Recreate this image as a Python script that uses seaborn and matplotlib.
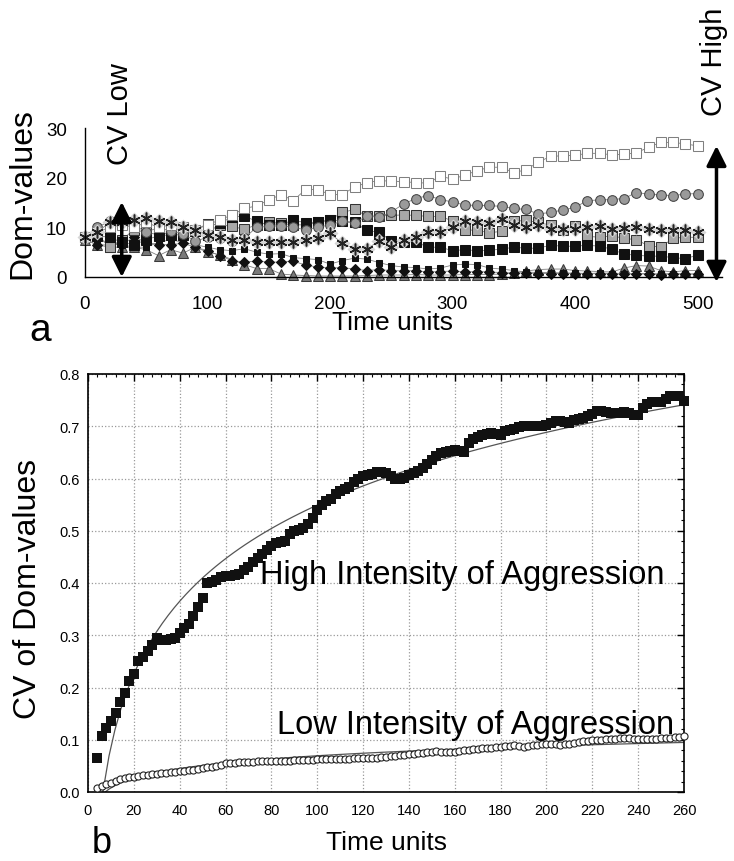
import matplotlib
matplotlib.use("Agg")
import numpy as np
import matplotlib.pyplot as plt
from matplotlib.ticker import MultipleLocator
import seaborn as sns

# ---- panel a: Dom-values of individuals over time ----
time_a = list(range(0, 510, 10))
open_sq = [8.0, 9.0, 10.0, 10.5, 10.0, 11.0, 10.0, 10.5, 10.0, 9.5, 10.5, 11.5, 12.5, 13.8, 14.3, 15.5, 16.6,
           15.4, 17.6, 17.6, 16.6, 16.6, 18.1, 19.0, 19.4, 19.3, 19.2, 19.0, 18.9, 20.3, 19.7, 20.5, 21.4, 22.1,
           22.1, 21.0, 21.6, 23.1, 24.3, 24.4, 24.5, 24.9, 24.9, 24.6, 24.7, 25.0, 26.1, 27.1, 27.1, 26.8, 26.4]
circles = [8.0, 10.0, 11.2, 10.5, 10.5, 9.0, 10.0, 9.2, 8.7, 7.2, 8.0, 7.8, 7.3, 7.8, 10.0, 10.2, 10.3,
           10.0, 9.5, 10.0, 10.5, 11.2, 10.8, 12.3, 12.0, 13.1, 14.7, 15.8, 16.4, 15.6, 15.1, 14.5, 14.4, 14.4,
           14.2, 13.8, 13.6, 12.7, 13.0, 13.5, 14.0, 15.4, 15.5, 15.6, 15.8, 17.0, 16.7, 16.5, 16.4, 16.7, 16.8]
grey_sq = [8.0, 8.5, 6.0, 7.5, 9.5, 9.0, 8.5, 9.0, 10.0, 9.5, 10.7, 10.5, 10.2, 9.6, 10.5, 11.0, 10.8,
           10.5, 10.5, 11.0, 11.5, 13.0, 13.6, 12.3, 12.3, 12.4, 12.5, 12.4, 12.2, 12.2, 11.3, 9.5, 9.4, 8.9,
           9.2, 11.2, 11.4, 11.0, 10.4, 9.5, 10.2, 8.2, 8.0, 8.3, 7.8, 7.5, 6.3, 6.0, 7.8, 8.0, 8.0]
stars = [8.0, 9.0, 11.0, 11.0, 11.5, 11.8, 11.2, 11.0, 10.0, 9.5, 8.5, 8.0, 7.5, 7.5, 7.0, 7.0, 7.0,
         7.0, 7.5, 7.8, 8.8, 6.8, 5.7, 5.7, 7.2, 6.0, 7.5, 8.0, 9.0, 9.0, 10.0, 11.3, 11.1, 10.8,
         11.7, 10.5, 10.0, 10.5, 9.7, 9.7, 9.7, 10.0, 10.3, 9.7, 9.8, 10.0, 9.7, 9.4, 9.5, 9.5, 9.0]
black_sq = [8.0, 8.3, 8.0, 7.0, 6.5, 7.5, 8.3, 8.5, 8.5, 9.3, 8.5, 10.9, 12.0, 12.3, 11.2, 10.5, 10.5,
            11.5, 10.9, 11.0, 11.5, 11.3, 11.0, 9.4, 9.0, 7.3, 7.1, 7.1, 6.0, 6.0, 5.3, 5.5, 5.3, 5.4,
            5.6, 6.0, 5.8, 5.8, 6.4, 6.2, 6.2, 6.4, 6.2, 5.6, 4.6, 4.4, 4.2, 4.2, 3.9, 3.7, 4.4]
small_sq = [8.0, 7.5, 7.0, 6.5, 6.0, 6.0, 7.0, 7.5, 7.0, 6.5, 6.0, 5.5, 5.3, 5.7, 5.0, 4.6, 4.7,
            3.9, 3.7, 3.5, 2.6, 3.3, 3.8, 3.6, 2.9, 2.3, 2.0, 1.9, 1.6, 1.8, 2.4, 2.6, 2.5, 1.8,
            1.6, 1.3, 1.0, 0.9, 0.9, 0.8, 0.8, 0.7, 0.8, 0.7, 0.6, 0.7, 0.7, 0.6, 0.7, 0.6, 0.6]
diamonds = [7.7, 6.4, 6.5, 6.6, 8.0, 7.0, 6.5, 6.5, 6.8, 6.0, 5.3, 4.3, 3.3, 3.0, 3.2, 3.0, 3.0,
            3.2, 2.4, 2.0, 1.8, 1.9, 1.6, 1.3, 1.5, 1.3, 1.2, 1.3, 1.0, 1.1, 1.2, 1.0, 1.1, 1.0,
            0.9, 0.8, 0.8, 0.7, 0.7, 0.7, 0.7, 0.6, 0.7, 0.6, 0.6, 0.6, 0.6, 0.5, 0.6, 0.6, 0.6]
triangles = [7.5, 6.5, 6.0, 6.0, 6.0, 5.5, 4.3, 5.5, 4.8, 6.0, 5.0, 4.5, 3.5, 2.5, 1.7, 1.7, 0.6,
             0.4, 0.3, 0.2, 0.2, 0.2, 0.2, 0.3, 0.4, 0.4, 0.4, 0.5, 0.4, 0.4, 0.4, 0.5, 0.5, 0.5,
             0.6, 0.8, 1.2, 1.5, 1.6, 1.6, 1.3, 1.2, 1.1, 1.0, 1.8, 2.3, 2.2, 1.3, 1.0, 1.3, 1.3]

# ---- panel b: CV of Dom-values ----
time_b = list(range(4, 262, 2))
high = [0.066, 0.107, 0.122, 0.136, 0.152, 0.172, 0.189, 0.212, 0.225, 0.250, 0.259, 0.270, 0.281, 0.295,
        0.290, 0.291, 0.293, 0.295, 0.305, 0.314, 0.322, 0.337, 0.355, 0.372, 0.400, 0.401, 0.405, 0.412,
        0.413, 0.414, 0.415, 0.417, 0.424, 0.430, 0.440, 0.448, 0.456, 0.464, 0.470, 0.477, 0.478, 0.480,
        0.494, 0.500, 0.502, 0.505, 0.512, 0.524, 0.540, 0.550, 0.556, 0.561, 0.570, 0.577, 0.580, 0.584,
        0.594, 0.600, 0.604, 0.607, 0.609, 0.612, 0.613, 0.611, 0.604, 0.600, 0.599, 0.601, 0.606, 0.611,
        0.615, 0.621, 0.627, 0.635, 0.643, 0.648, 0.650, 0.652, 0.655, 0.653, 0.650, 0.668, 0.675, 0.679,
        0.683, 0.686, 0.687, 0.686, 0.684, 0.690, 0.693, 0.695, 0.698, 0.700, 0.700, 0.701, 0.701, 0.701,
        0.703, 0.706, 0.711, 0.710, 0.708, 0.706, 0.712, 0.714, 0.715, 0.719, 0.724, 0.729, 0.730, 0.727,
        0.726, 0.725, 0.726, 0.728, 0.726, 0.722, 0.722, 0.735, 0.743, 0.747, 0.746, 0.746, 0.752, 0.757,
        0.758, 0.757, 0.749]
low = [0.007, 0.012, 0.015, 0.018, 0.021, 0.024, 0.026, 0.028, 0.029, 0.031, 0.032, 0.033, 0.035, 0.035,
       0.036, 0.037, 0.038, 0.039, 0.041, 0.040, 0.042, 0.043, 0.044, 0.045, 0.047, 0.048, 0.050, 0.052,
       0.055, 0.056, 0.056, 0.057, 0.057, 0.058, 0.058, 0.059, 0.060, 0.059, 0.060, 0.060, 0.059, 0.060,
       0.060, 0.061, 0.061, 0.062, 0.062, 0.062, 0.063, 0.063, 0.063, 0.063, 0.064, 0.064, 0.064, 0.064,
       0.065, 0.065, 0.065, 0.066, 0.066, 0.066, 0.067, 0.067, 0.068, 0.069, 0.070, 0.071, 0.072, 0.073,
       0.074, 0.075, 0.076, 0.077, 0.078, 0.077, 0.076, 0.076, 0.077, 0.079, 0.080, 0.081, 0.082, 0.083,
       0.084, 0.084, 0.085, 0.086, 0.087, 0.088, 0.088, 0.089, 0.088, 0.087, 0.088, 0.089, 0.090, 0.091,
       0.092, 0.091, 0.091, 0.090, 0.091, 0.092, 0.094, 0.096, 0.097, 0.098, 0.099, 0.099, 0.100, 0.101,
       0.102, 0.102, 0.103, 0.103, 0.103, 0.102, 0.101, 0.101, 0.101, 0.102, 0.102, 0.103, 0.103, 0.104,
       0.105, 0.106, 0.108]

sns.set_style("white")
plt.rcParams['font.family'] = ['Liberation Sans', 'DejaVu Sans']
plt.rcParams['text.color'] = 'black'
plt.rcParams['axes.labelcolor'] = 'black'

W, H = 734, 862
fig = plt.figure(figsize=(W / 100, H / 100), dpi=100)


def fx(px):
    return px / W


def fy(py):
    return 1 - py / H


# ---------------- panel a ----------------
ax1 = fig.add_axes([fx(85), fy(278), fx(722) - fx(85), fy(129) - fy(278)])

series_a = [
    (triangles, dict(marker='^', markersize=6.5, markerfacecolor='#7a7a7a', markeredgecolor='#3a3a3a')),
    (small_sq, dict(marker='s', markersize=5, markerfacecolor='#111111', markeredgecolor='#111111')),
    (diamonds, dict(marker='D', markersize=5, markerfacecolor='#111111', markeredgecolor='#111111')),
    (grey_sq, dict(marker='s', markersize=7, markerfacecolor='#a8a8a8', markeredgecolor='#333333')),
    (black_sq, dict(marker='s', markersize=7, markerfacecolor='#111111', markeredgecolor='#111111')),
    (circles, dict(marker='o', markersize=7, markerfacecolor='#9a9a9a', markeredgecolor='#444444')),
    (open_sq, dict(marker='s', markersize=7, markerfacecolor='white', markeredgecolor='#808080')),
]
for vals, kw in series_a:
    sns.lineplot(x=time_a, y=vals, ax=ax1, color='#808080', lw=0.6, clip_on=False, **kw)

# asterisks with light grey halo
sns.lineplot(x=time_a, y=stars, ax=ax1, color='#808080', lw=0.6, marker='D', markersize=8,
             markerfacecolor='#d6d6d6', markeredgecolor='none', clip_on=False)
ax1.plot(time_a, stars, ls='none', marker=(6, 2, 0), markersize=8.5, markeredgecolor='#222222',
         markeredgewidth=1.1, clip_on=False)

ax1.set_xlim(0, 520)
ax1.set_ylim(0, 30)
ax1.set_xticks(range(0, 600, 100))
ax1.set_yticks([0, 10, 20, 30])
ax1.tick_params(direction='inout', length=12, width=1, labelsize=13.5, colors='black', pad=7)
sns.despine(ax=ax1)
for s in ['left', 'bottom']:
    ax1.spines[s].set_color('black')
    ax1.spines[s].set_linewidth(1)
ax1.set_xlabel('')
ax1.set_ylabel('')

# double arrows
ax1.annotate('', xy=(30, 0), xytext=(30, 15.1), xycoords='data',
             arrowprops=dict(arrowstyle='<|-|>', lw=2.5, color='black', mutation_scale=30,
                             shrinkA=0, shrinkB=0), annotation_clip=False)
ax1.annotate('', xy=(515.5, -1.0), xytext=(515.5, 26.4), xycoords='data',
             arrowprops=dict(arrowstyle='<|-|>', lw=2.5, color='black', mutation_scale=30,
                             shrinkA=0, shrinkB=0), annotation_clip=False)

fig.text(fx(22), fy(194), 'Dom-values', rotation=90, fontsize=23, ha='center', va='center')
fig.text(fx(120), fy(114), 'CV Low', rotation=90, fontsize=21, ha='center', va='center')
fig.text(fx(714), fy(62), 'CV High', rotation=90, fontsize=21, ha='center', va='center')
fig.text(fx(392), fy(323), 'Time units', fontsize=19, ha='center', va='center')
fig.text(fx(40), fy(331), 'a', fontsize=28, ha='center', va='center')

# ---------------- panel b ----------------
ax2 = fig.add_axes([fx(88), fy(793), fx(684) - fx(88), fy(375) - fy(793)])

sns.regplot(x=np.array(time_b), y=np.array(high), logx=True, scatter=False, ci=None, ax=ax2,
            line_kws=dict(color='#555555', lw=0.9))
sns.regplot(x=np.array(time_b), y=np.array(low), logx=True, scatter=False, ci=None, ax=ax2,
            line_kws=dict(color='#555555', lw=0.9))
sns.scatterplot(x=time_b, y=high, ax=ax2, marker='s', s=42, color='#111111', edgecolor='#111111',
                linewidth=0, zorder=3, clip_on=False)
sns.scatterplot(x=time_b, y=low, ax=ax2, marker='o', s=26, color='white', edgecolor='#222222',
                linewidth=0.8, zorder=3, clip_on=False)

ax2.set_xlim(0, 260)
ax2.set_ylim(0, 0.8)
ax2.set_xticks(range(0, 280, 20))
ax2.set_yticks(np.round(np.arange(0, 0.81, 0.1), 1))
ax2.set_yticklabels([f'{v:.1f}' for v in np.arange(0, 0.81, 0.1)])
ax2.xaxis.set_minor_locator(MultipleLocator(4))
ax2.yaxis.set_minor_locator(MultipleLocator(0.02))
ax2.tick_params(which='both', direction='in', top=True, right=True, colors='black', labelsize=10.5)
ax2.tick_params(which='major', length=5, width=1)
ax2.tick_params(which='minor', length=2.5, width=0.8)
ax2.tick_params(axis='x', pad=8)
ax2.tick_params(axis='y', pad=6)
ax2.grid(True, which='major', ls=':', color='#999999', lw=0.9)
for s in ax2.spines.values():
    s.set_color('black')
    s.set_linewidth(1.2)
ax2.set_xlabel('')
ax2.set_ylabel('')

ax2.text(75, 0.40, 'High Intensity of Aggression', fontsize=23.5, ha='left', va='baseline')
ax2.text(82.5, 0.113, 'Low Intensity of Aggression', fontsize=23.5, ha='left', va='baseline')

fig.text(fx(28), fy(589), 'CV of Dom-values', rotation=90, fontsize=23, ha='center', va='center')
fig.text(fx(387), fy(843), 'Time units', fontsize=19, ha='center', va='center')
fig.text(fx(102), fy(853), 'b', fontsize=26, ha='center', va='baseline')

fig.savefig('out.png', dpi=100)
